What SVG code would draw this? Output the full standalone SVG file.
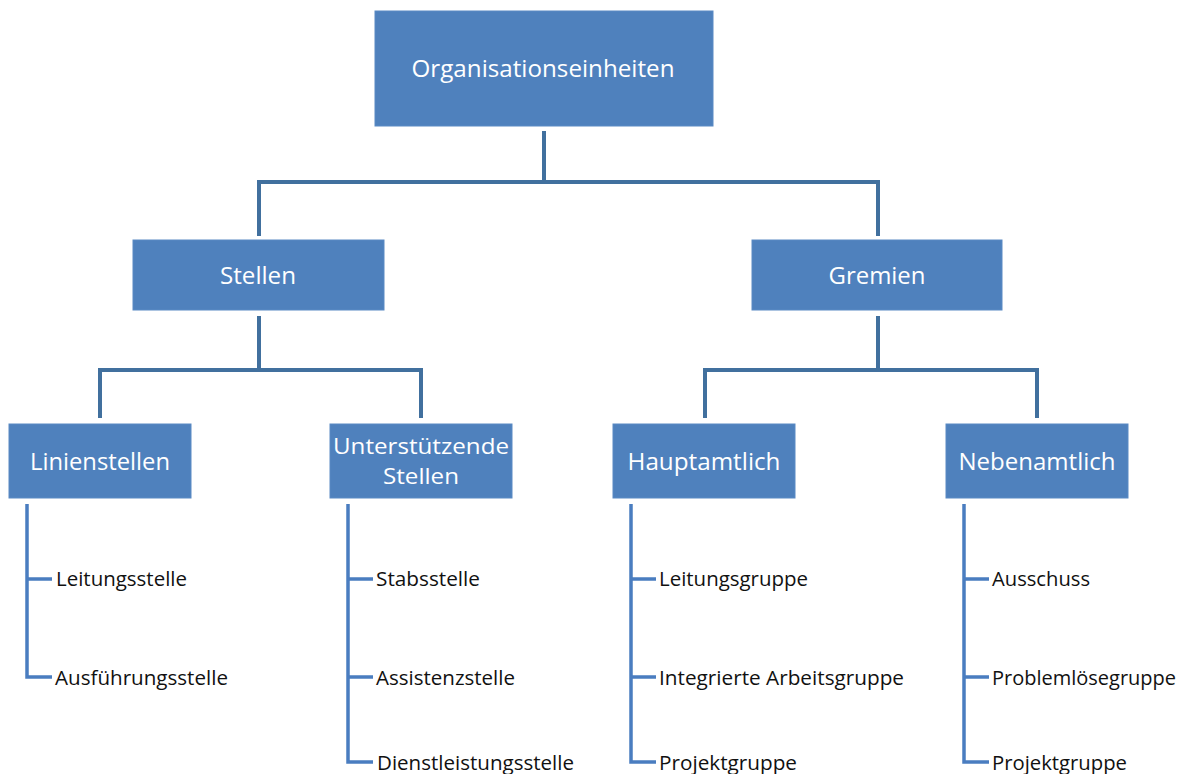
<svg xmlns="http://www.w3.org/2000/svg" width="1184" height="774" viewBox="0 0 1184 774">
  <style>
    .box { fill: #4F81BD; stroke: #5A8AC4; stroke-width: 1; }
    .boxtext { fill: #FFFFFF; font-family: "Open Sans", "Liberation Sans", sans-serif; font-size: 24px; text-anchor: middle; }
    .twoline { font-size: 22px; }
    .item { fill: #111111; font-family: "Open Sans", "Liberation Sans", sans-serif; font-size: 20px; }
    .trunk { fill: none; stroke: #41709E; stroke-width: 4; }
    .list { fill: none; stroke: #4A7DC0; stroke-width: 3.5; }
  </style>
  <rect width="1184" height="774" fill="#FFFFFF"/>

  <g id="connectors">
    <!-- hierarchy links -->
    <path class="trunk" d="M544 131 V182 M259 182 H878 M259 180 V236 M878 180 V236"/>
    <path class="trunk" d="M259 316 V370 M100 370 H421 M100 368 V418 M421 368 V418"/>
    <path class="trunk" d="M878 316 V370 M705 370 H1037 M705 368 V418 M1037 368 V418"/>
    <!-- item lists -->
    <path class="list" d="M27 504 V677 H52 M27 579 H52"/>
    <path class="list" d="M348 504 V762 H373 M348 579 H373 M348 677 H373"/>
    <path class="list" d="M631 504 V762 H656 M631 579 H656 M631 677 H656"/>
    <path class="list" d="M964 504 V762 H989 M964 579 H989 M964 677 H989"/>
  </g>

  <g id="organisationseinheiten">
    <rect class="box" x="375" y="11" width="338" height="115"/>
    <text class="boxtext" x="543" y="77" font-size="26" textLength="263" lengthAdjust="spacingAndGlyphs">Organisationseinheiten</text>
  </g>
  <g id="stellen">
    <rect class="box" x="133" y="240" width="251" height="70"/>
    <text class="boxtext" x="258" y="284" textLength="76" lengthAdjust="spacingAndGlyphs">Stellen</text>
  </g>
  <g id="gremien">
    <rect class="box" x="752" y="240" width="250" height="70"/>
    <text class="boxtext" x="877" y="284" textLength="97" lengthAdjust="spacingAndGlyphs">Gremien</text>
  </g>
  <g id="linienstellen">
    <rect class="box" x="9" y="424" width="182" height="74"/>
    <text class="boxtext" x="100" y="470" textLength="140" lengthAdjust="spacingAndGlyphs">Linienstellen</text>
  </g>
  <g id="unterstuetzende-stellen">
    <rect class="box" x="330" y="424" width="182" height="74"/>
    <text class="boxtext twoline" x="421" y="454" textLength="176" lengthAdjust="spacingAndGlyphs">Unterstützende</text>
    <text class="boxtext twoline" x="421" y="484" textLength="76" lengthAdjust="spacingAndGlyphs">Stellen</text>
  </g>
  <g id="hauptamtlich">
    <rect class="box" x="613" y="424" width="182" height="74"/>
    <text class="boxtext" x="704" y="470" textLength="153" lengthAdjust="spacingAndGlyphs">Hauptamtlich</text>
  </g>
  <g id="nebenamtlich">
    <rect class="box" x="946" y="424" width="182" height="74"/>
    <text class="boxtext" x="1037" y="470" textLength="157" lengthAdjust="spacingAndGlyphs">Nebenamtlich</text>
  </g>

  <g id="linienstellen-items">
    <text class="item" x="56" y="586" textLength="131" lengthAdjust="spacingAndGlyphs">Leitungsstelle</text>
    <text class="item" x="55" y="685" textLength="173" lengthAdjust="spacingAndGlyphs">Ausführungsstelle</text>
  </g>
  <g id="unterstuetzende-items">
    <text class="item" x="376" y="586" textLength="104" lengthAdjust="spacingAndGlyphs">Stabsstelle</text>
    <text class="item" x="376" y="685" textLength="139" lengthAdjust="spacingAndGlyphs">Assistenzstelle</text>
    <text class="item" x="377" y="770" textLength="197" lengthAdjust="spacingAndGlyphs">Dienstleistungsstelle</text>
  </g>
  <g id="hauptamtlich-items">
    <text class="item" x="659" y="586" textLength="149" lengthAdjust="spacingAndGlyphs">Leitungsgruppe</text>
    <text class="item" x="659" y="685" textLength="245" lengthAdjust="spacingAndGlyphs">Integrierte Arbeitsgruppe</text>
    <text class="item" x="659" y="770" textLength="138" lengthAdjust="spacingAndGlyphs">Projektgruppe</text>
  </g>
  <g id="nebenamtlich-items">
    <text class="item" x="992" y="586" textLength="98" lengthAdjust="spacingAndGlyphs">Ausschuss</text>
    <text class="item" x="992" y="685" textLength="184" lengthAdjust="spacingAndGlyphs">Problemlösegruppe</text>
    <text class="item" x="992" y="770" textLength="135" lengthAdjust="spacingAndGlyphs">Projektgruppe</text>
  </g>
</svg>
